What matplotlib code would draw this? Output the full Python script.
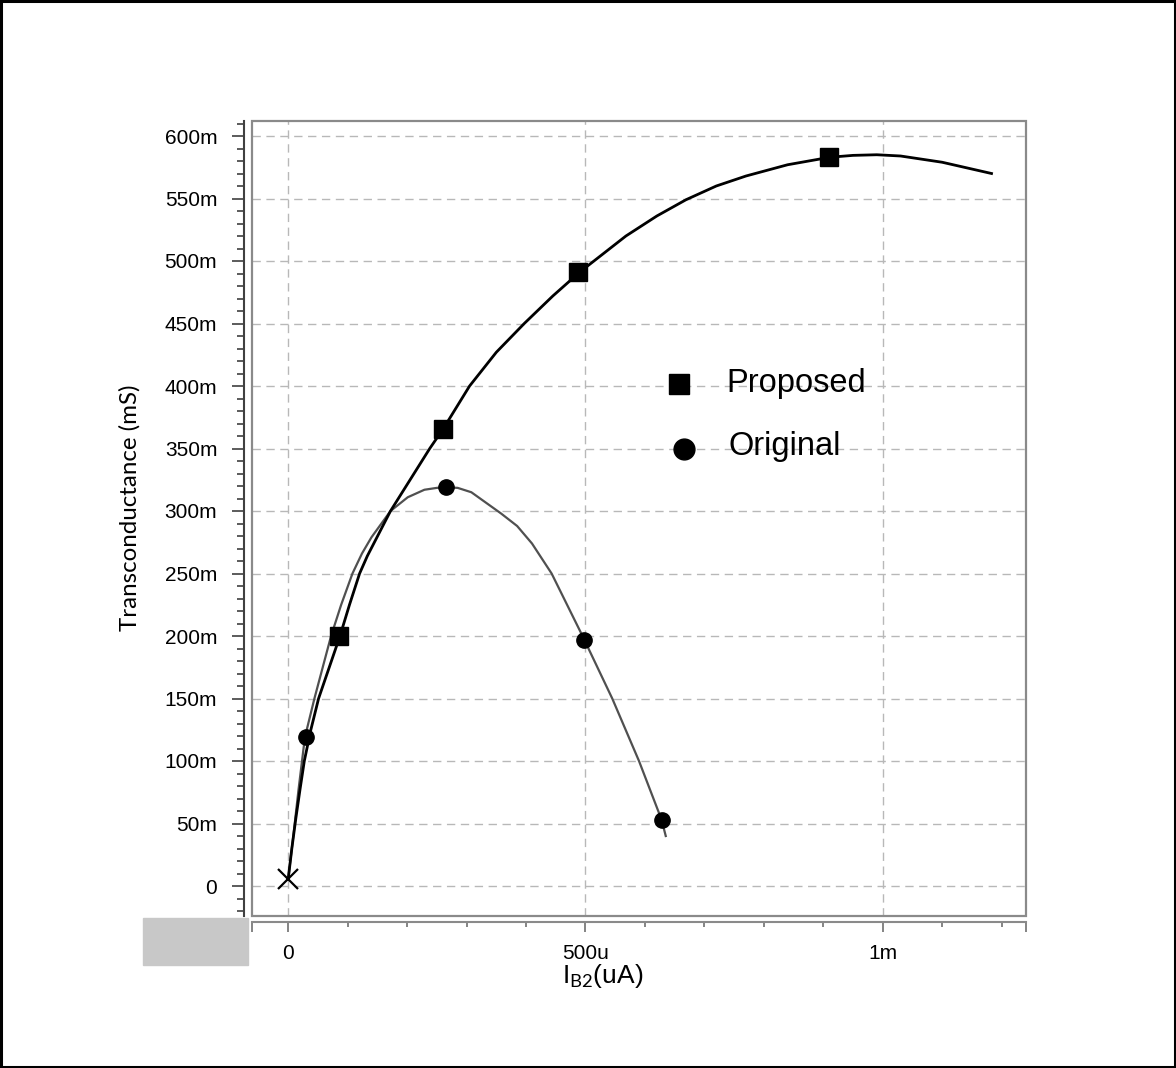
import numpy as np
import matplotlib
matplotlib.use("Agg")
import matplotlib.pyplot as plt
from matplotlib.patches import Rectangle
from matplotlib.ticker import FixedLocator, FuncFormatter

plt.rcParams["font.family"] = ["Liberation Sans", "DejaVu Sans"]
plt.rcParams["mathtext.fontset"] = "custom"
plt.rcParams["mathtext.rm"] = "Lato"

# I_B2 in uA, gm in mS
prop_ib = [0, 6, 13, 20, 27, 38, 51, 69, 87, 103, 120, 133, 146, 172, 205,
           238, 261, 305, 350, 397, 445, 490, 568, 620, 669, 720, 770, 840,
           911, 950, 990, 1030, 1100, 1183]
prop_gm = [6, 30, 55, 78, 100, 125, 150, 175, 200, 225, 250, 264, 276, 300,
           325, 350, 366, 400, 427, 450, 472, 491, 520, 536, 549, 560, 568,
           577, 583, 584.5, 585, 584, 579, 570]
prop_mark_ib = [86, 261, 488, 910]
prop_mark_gm = [200, 366, 491, 583]

orig_ib = [0, 9, 17, 28, 44, 58, 72, 89, 108, 124, 140, 172, 201, 229, 250,
           265, 285, 308, 358, 385, 410, 443, 495, 545, 590, 628, 635]
orig_gm = [6, 42, 76, 119, 150, 175, 200, 225, 250, 266, 279, 300, 311, 317,
           318.5, 319, 318.5, 315, 298, 288, 274, 250, 200, 150, 100, 53, 40]
orig_mark_ib = [29, 266, 497, 628]
orig_mark_gm = [119, 319, 197, 53]

start_ib, start_gm = 0, 6

x_major = [0, 500, 1000]
x_labels = ["0", "500u", "1m"]
y_major = list(range(0, 601, 50))

xmin, xmax = -61, 1241
ymin, ymax = -24, 612

W, H = 1176, 1068
fig = plt.figure(figsize=(W / 100, H / 100), dpi=100)
ax = fig.add_axes([252 / W, 1 - 916 / H, 774 / W, 795 / H])
ax.set_xlim(xmin, xmax)
ax.set_ylim(ymin, ymax)

# dashed grid only on the labelled values
for v in x_major:
    ax.axvline(v, color="#b8b8b8", lw=1, ls=(0, (6, 4)), zorder=0)
for v in y_major:
    ax.axhline(v, color="#b8b8b8", lw=1, ls=(0, (6, 4)), zorder=0)

ax.plot(orig_ib, orig_gm, color="#505050", lw=1.6, zorder=2,
        solid_joinstyle="round")
ax.plot(prop_ib, prop_gm, color="black", lw=2.0, zorder=3,
        solid_joinstyle="round")
ax.plot(prop_mark_ib, prop_mark_gm, "s", color="black", ms=13, zorder=4)
ax.plot(orig_mark_ib, orig_mark_gm, "o", color="black", ms=11, zorder=4)
ax.plot(start_ib, start_gm, "x", color="black", ms=15, mew=1.6, zorder=4,
        clip_on=False)

# legend drawn by hand
ax.plot(0.552, 0.669, "s", color="black", ms=15, transform=ax.transAxes)
ax.plot(0.558, 0.588, "o", color="black", ms=15, transform=ax.transAxes)
ax.text(0.613, 0.670, "Proposed", fontsize=23.5, va="center", ha="left",
        transform=ax.transAxes)
ax.text(0.616, 0.590, "Original", fontsize=23.5, va="center", ha="left",
        transform=ax.transAxes)

# axes: box in gray, left/bottom axis lines offset outward
for s in ("top", "right"):
    ax.spines[s].set_visible(False)
ax.add_patch(Rectangle((0, 0), 1, 1, transform=ax.transAxes, fill=False,
                       ec="#8a8a8a", lw=1.6, clip_on=False, zorder=5))
ax.spines["left"].set_position(("outward", 6))
ax.spines["bottom"].set_position(("outward", 4.3))
ax.spines["left"].set_color("#404040")
ax.spines["bottom"].set_color("#8a8a8a")
ax.spines["left"].set_linewidth(1.5)
ax.spines["bottom"].set_linewidth(1.5)

ax.yaxis.set_major_locator(FixedLocator(y_major))
ax.yaxis.set_minor_locator(FixedLocator([v for v in range(-20, 611, 10) if v % 50]))
ax.yaxis.set_major_formatter(FuncFormatter(lambda v, p: "0" if v == 0 else f"{int(v)}m"))
ax.tick_params(axis="y", which="major", length=9, width=1.2, color="#404040",
               pad=10, labelsize=15)
ax.tick_params(axis="y", which="minor", length=5, width=1.2, color="#404040")

ax.xaxis.set_major_locator(FixedLocator([xmin] + x_major + [xmax]))
ax.xaxis.set_major_formatter(FuncFormatter(
    lambda v, p: x_labels[x_major.index(int(round(v)))] if int(round(v)) in x_major else ""))
ax.xaxis.set_minor_locator(FixedLocator([v for v in range(100, 1201, 100) if v % 500]))
ax.tick_params(axis="x", which="major", length=7, width=1.2, color="#707070",
               pad=9, labelsize=15)
ax.tick_params(axis="x", which="minor", length=3.5, width=1.2, color="#707070")

fig.text(130 / W, 1 - 508 / H, "Transconductance (mS)", rotation=90,
         ha="center", va="center", fontsize=17.4, family=["Lato", "DejaVu Sans"])
fig.text(603 / W, 1 - 976 / H, r"I$_{\rm B2}$(uA)", ha="center", va="center",
         fontsize=19)

# gray block under the y axis and outer border
fig.patches.append(Rectangle((143 / W, 1 - 965 / H), 105 / W, 47 / H,
                             transform=fig.transFigure, color="#c8c8c8"))
fig.patches.append(Rectangle((0.001, 0.001), 0.998, 0.998, transform=fig.transFigure,
                             fill=False, ec="black", lw=2.2))

fig.savefig("out.png", dpi=100)
